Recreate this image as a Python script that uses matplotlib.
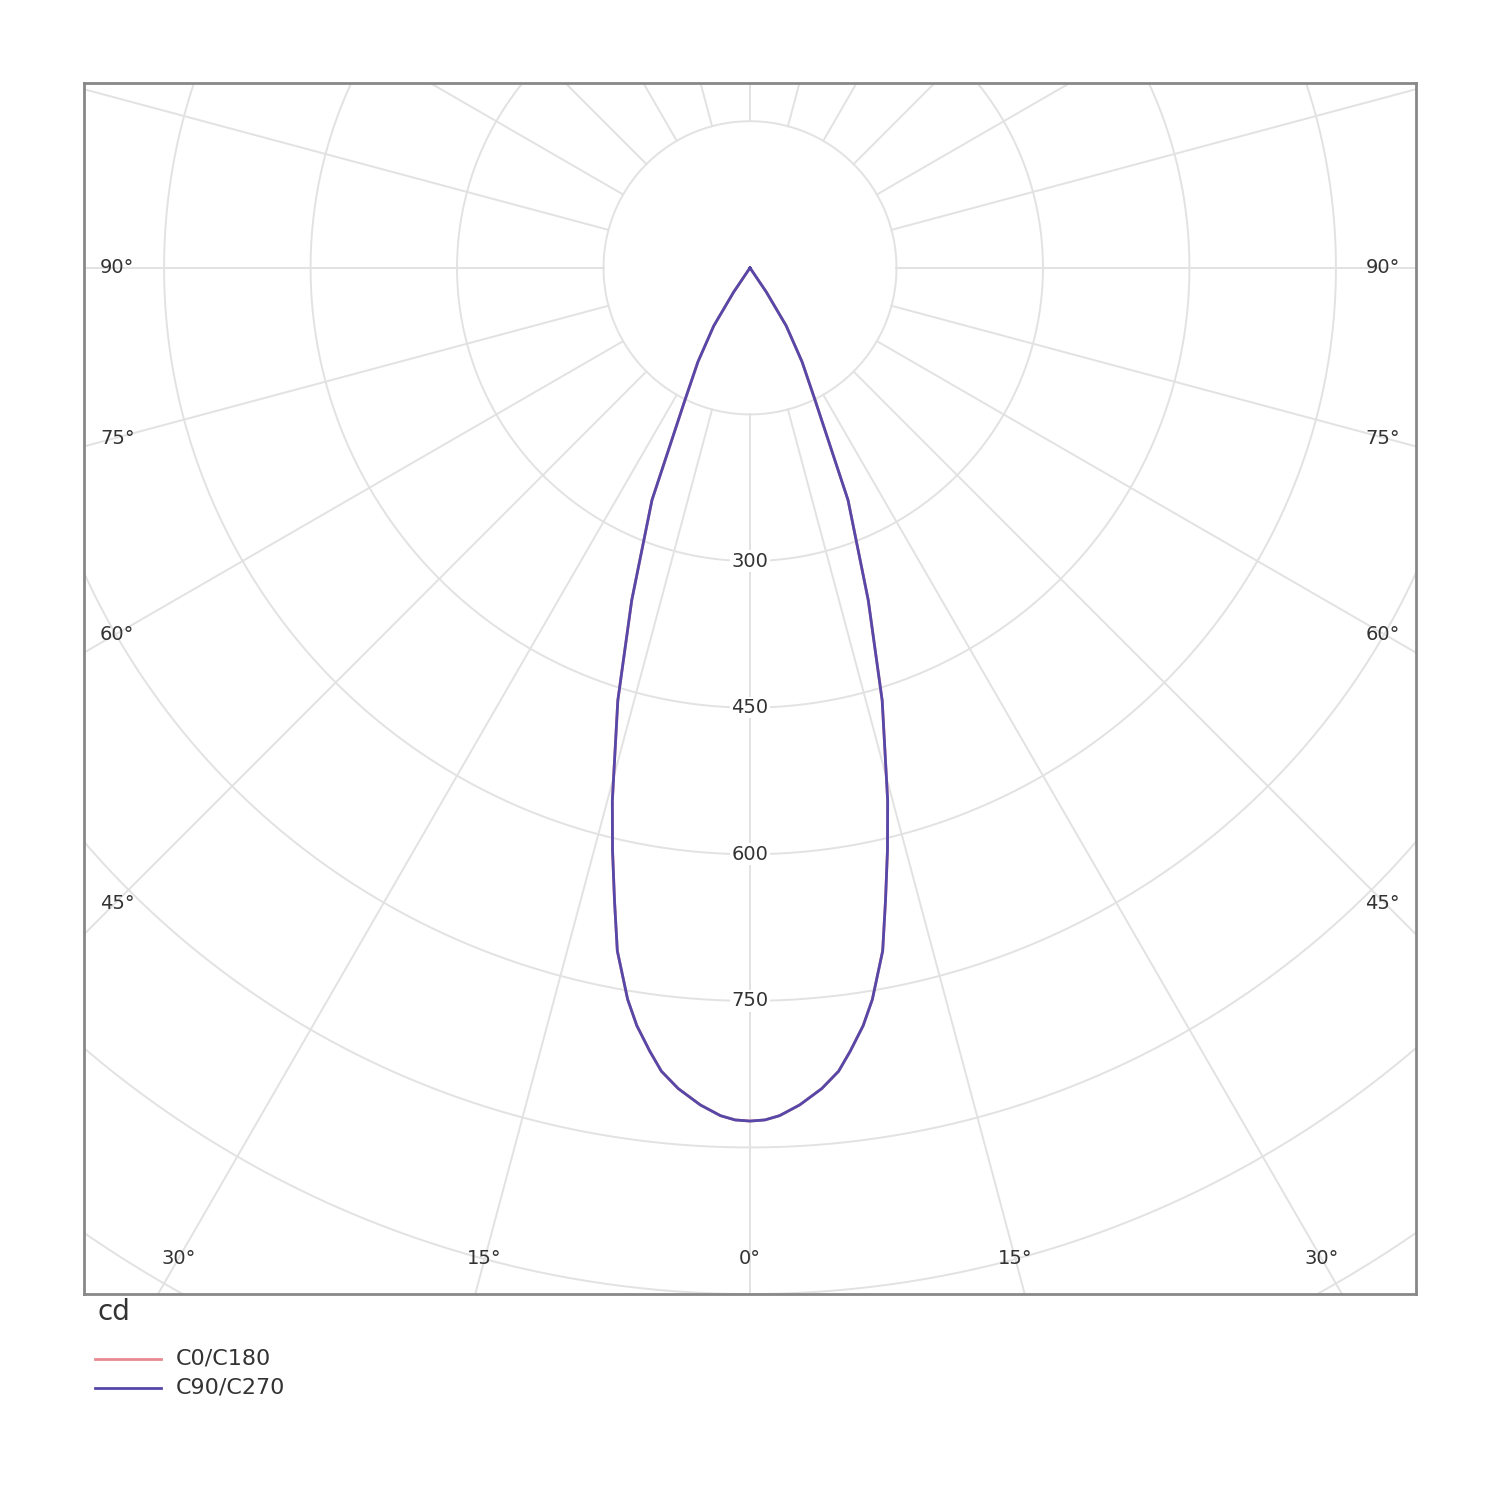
import matplotlib.pyplot as plt
import numpy as np

# light distribution, angle from nadir (deg) vs intensity (cd)
angles = [0, 1, 2, 3.4, 5, 6.3, 7.3, 8.5, 9.5, 11, 12.1, 13.3, 14.5, 17, 19.6, 22.9, 26.2, 29, 32, 34, 35]
intensity = [873, 872, 868, 858, 843, 827, 808, 784, 759, 712, 662, 612, 563, 463, 361, 258, 151, 110, 70, 30, 0]

ring_values = [150, 300, 450, 600, 750, 900, 1050, 1200, 1350, 1500]
ring_labels = [300, 450, 600, 750]
side_labels = [90, 75, 60, 45]
bottom_labels = [30, 15, 0]
legend_names = ["C0/C180", "C90/C270"]

fig = plt.figure(figsize=(15, 15), dpi=100)
ax = fig.add_axes([0.056, 0.1373, 0.888, 0.8073])
ax.set_xlim(-682, 682)
ax.set_ylim(-1050, 189)
ax.set_xticks([])
ax.set_yticks([])
for s in ax.spines.values():
    s.set_color("#888888")
    s.set_linewidth(2)

grid = "#e2e2e2"
t = np.linspace(0, 2 * np.pi, 720)
for r in ring_values:
    ax.plot(r * np.cos(t), r * np.sin(t), color=grid, lw=1.4, zorder=1)
for a in range(0, 360, 15):
    th = np.radians(a)
    ax.plot([150 * np.sin(th), 3000 * np.sin(th)],
            [-150 * np.cos(th), -3000 * np.cos(th)], color=grid, lw=1.4, zorder=1)

for v in ring_labels:
    ax.text(0, -v, str(v), ha="center", va="center", fontsize=14, color="#333333",
            bbox=dict(facecolor="white", edgecolor="none", pad=1), zorder=2)

# angle labels along the rays, just inside the frame
for a in side_labels:
    y = -650 / np.tan(np.radians(a)) if a != 90 else 0
    for sx in (-1, 1):
        ax.text(sx * 648, y, f"{a}°", ha="center", va="center", fontsize=14, color="#333333")
for a in bottom_labels:
    x = 1014 * np.tan(np.radians(a))
    for sx in ((-1, 1) if a else (1,)):
        ax.text(sx * x, -1014, f"{a}°", ha="center", va="center", fontsize=14, color="#333333")

th = np.radians(angles)
r = np.array(intensity)
xs = np.concatenate([-(r * np.sin(th))[::-1], r * np.sin(th)])
ys = np.concatenate([-(r * np.cos(th))[::-1], -r * np.cos(th)])
ax.plot(xs, ys, color="#e88a94", lw=2, zorder=3)
ax.plot(xs, ys, color="#5548a8", lw=2, zorder=4)

fig.text(0.065, 0.125, "cd", fontsize=20, color="#333333", va="center")
for i, (name, c) in enumerate(zip(legend_names, ["#e88a94", "#5548a8"])):
    yy = 0.094 - i * 0.019
    fig.add_artist(plt.Line2D([0.063, 0.107], [yy, yy], color=c, lw=2))
    fig.text(0.117, yy, name, fontsize=16, color="#333333", va="center")

fig.savefig("out.png")
